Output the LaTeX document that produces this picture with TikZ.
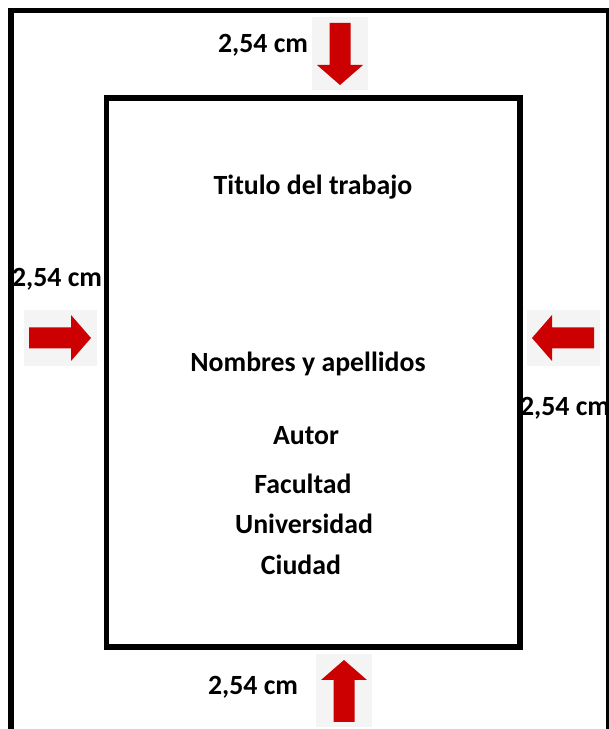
\documentclass[tikz,border=0pt]{standalone}
\usepackage{fontspec}
\setmainfont{Carlito}
\usetikzlibrary{positioning}

\definecolor{rojo}{HTML}{CC0000}
\definecolor{fondo}{HTML}{F4F4F4}

\tikzset{
  texto/.style={font=\bfseries\fontsize{27.8}{32}\selectfont, inner sep=0pt},
  flecha/.pic={
    \fill[fondo] (-36.5,-28) rectangle (36.5,28);
    \fill[rojo] (-31,-10.5) -- (11,-10.5) -- (11,-23) -- (31,0) -- (11,23) -- (11,10.5) -- (-31,10.5) -- cycle;
  }
}

\begin{document}
\begin{tikzpicture}[x=1pt, y=1pt]

\useasboundingbox (0,0) rectangle (609,729);

%\draw[step=50, gray!40] (0,0) grid (609,729);

% hoja
\draw[line width=5.5pt] (11,0) -- (11,718.5) -- (607.5,718.5);
\draw[line width=3pt] (607.5,721) -- (607.5,0);

% margenes
\draw[line width=5.5pt] (106.5,82) rectangle (520,631);

\pic[rotate=-90] at (340,675) {flecha};
\pic at (60,391) {flecha};
\pic[rotate=180] at (563,391) {flecha};
\pic[rotate=90] at (344,38) {flecha};

\node[texto] (sup) at (263,684) {2,54 cm};
\node[texto] (izq) at (57,450) {2,54 cm};
\node[texto] (der) at (565,321) {2,54 cm};
\node[texto] (inf) at (253,42) {2,54 cm};

% portada
\node[texto] (titulo) at (313,542) {Titulo del trabajo};
\node[texto] (nombres) at (308,365) {Nombres y apellidos};
\node[texto] (autor) at (306,293) {Autor};
\node[texto] (facultad) at (303,245) {Facultad};
\node[texto] (universidad) at (304,205) {Universidad};
\node[texto] (ciudad) at (301,164) {Ciudad};

\end{tikzpicture}
\end{document}
